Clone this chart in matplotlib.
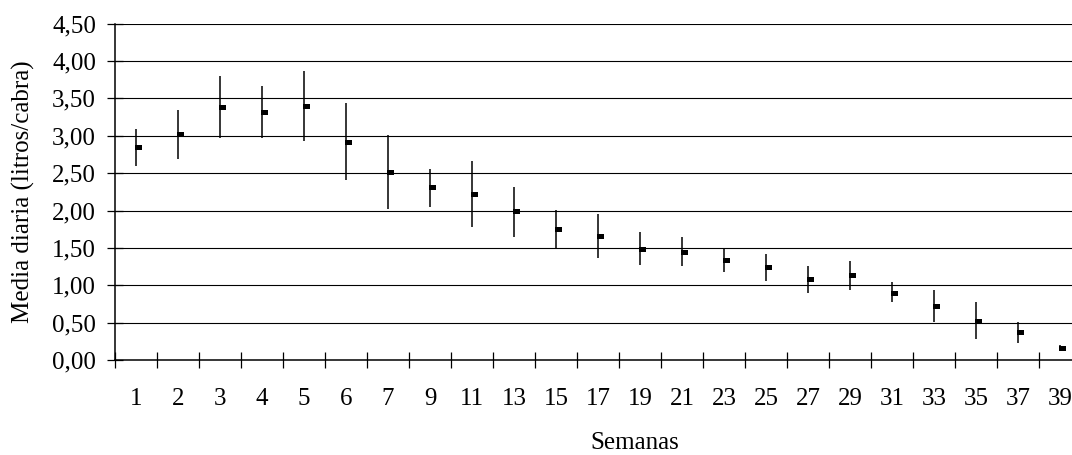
import numpy as np
import matplotlib.pyplot as plt
from matplotlib.path import Path
from matplotlib.ticker import FuncFormatter

plt.rcParams['font.family'] = ['Liberation Serif', 'DejaVu Serif']

# Semanas y valores diarios (litros/cabra): máximo, mínimo, media
semanas = ["1", "2", "3", "4", "5", "6", "7", "9", "11", "13", "15", "17",
           "19", "21", "23", "25", "27", "29", "31", "33", "35", "37", "39"]
maximo = [3.09, 3.34, 3.80, 3.67, 3.87, 3.44, 3.01, 2.55, 2.66, 2.32, 2.01, 1.95,
          1.71, 1.64, 1.48, 1.42, 1.26, 1.33, 1.04, 0.94, 0.77, 0.51, 0.20]
minimo = [2.59, 2.69, 2.97, 2.97, 2.93, 2.41, 2.02, 2.05, 1.78, 1.64, 1.49, 1.37,
          1.27, 1.26, 1.18, 1.06, 0.90, 0.93, 0.77, 0.51, 0.28, 0.23, 0.12]
media = [2.85, 3.02, 3.38, 3.32, 3.40, 2.92, 2.51, 2.31, 2.22, 1.99, 1.75, 1.66,
         1.49, 1.45, 1.34, 1.25, 1.09, 1.14, 0.90, 0.72, 0.52, 0.37, 0.16]

x = np.arange(len(semanas)) + 0.5

# Marca de la media: pequeño rectángulo a la derecha de la línea
verts = [(-0.15, -0.45), (1.0, -0.45), (1.0, 0.45), (-0.15, 0.45), (-0.15, -0.45)]
marca = Path(verts, [Path.MOVETO, Path.LINETO, Path.LINETO, Path.LINETO, Path.CLOSEPOLY])

fig = plt.figure(figsize=(10.72, 4.55), dpi=100)
ax = fig.add_axes([115 / 1072, 1 - 360 / 455, 966 / 1072, 336.3 / 455])

ax.set_axisbelow(True)
for v in np.arange(0.5, 4.51, 0.5):
    ax.axhline(v, color="black", lw=0.8, zorder=0)

ax.vlines(x, minimo, maximo, color="black", lw=1.1)
ax.plot(x, media, linestyle="none", marker=marca, markersize=8,
        color="black", markeredgewidth=0)

ax.set_xlim(0, len(semanas))
ax.set_ylim(0, 4.5)
ax.set_yticks(np.arange(0, 4.51, 0.5))
ax.yaxis.set_major_formatter(FuncFormatter(lambda v, p: f"{v:.2f}".replace(".", ",")))
ax.set_xticks(np.arange(0, len(semanas) + 1))
ax.set_xticklabels([])
ax.set_xticks(x, minor=True)
ax.set_xticklabels(semanas, minor=True)

ax.tick_params(axis="both", which="major", direction="inout", length=11.5,
               width=0.9, labelsize=18, pad=8)
ax.tick_params(axis="x", which="minor", length=0, labelsize=18, pad=20)

for s in ["top", "right"]:
    ax.spines[s].set_visible(False)
for s in ["left", "bottom"]:
    ax.spines[s].set_linewidth(1.1)

ax.set_ylabel("Media diaria (litros/cabra)", fontsize=18)
ax.yaxis.set_label_coords(-0.083, 0.5)
ax.set_xlabel("Semanas", fontsize=18)
ax.xaxis.set_label_coords(520 / 966, -0.214)

fig.savefig("out.png", dpi=100)
